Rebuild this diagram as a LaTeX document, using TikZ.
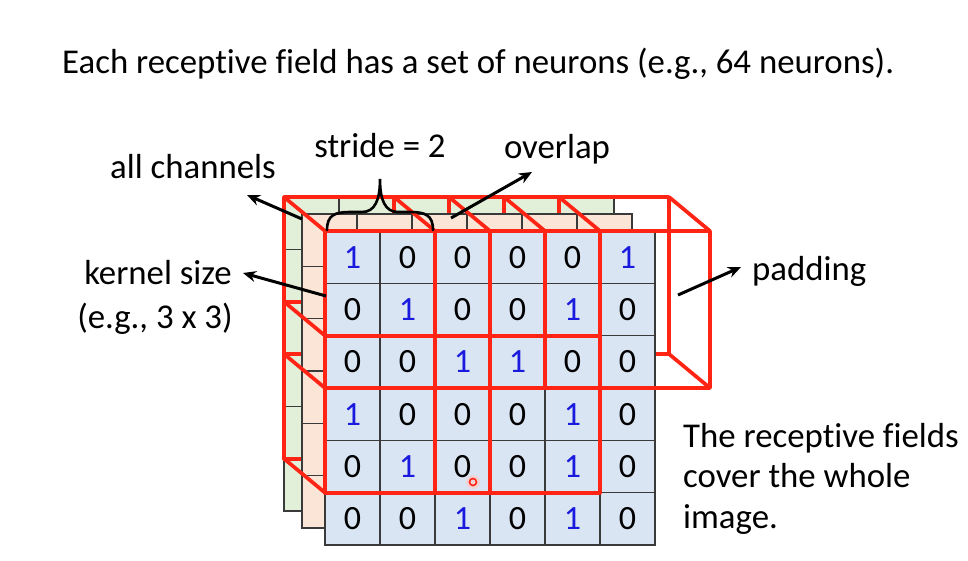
\documentclass[tikz,border=0pt]{standalone}
\usepackage{fontspec}
\setmainfont[Ligatures=NoCommon]{Carlito}
\usetikzlibrary{arrows.meta}
\definecolor{gridc}{HTML}{3A3A3A}
\definecolor{frontfill}{HTML}{DAE5F3}
\definecolor{peachfill}{HTML}{FBE5D6}
\definecolor{greenfill}{HTML}{E2F0D9}
\definecolor{rfred}{HTML}{FF2414}
\definecolor{onecol}{HTML}{1A1ADF}
\begin{document}
\begin{tikzpicture}[x=1pt,y=-1pt,
  cellbox/.style={draw=gridc, line width=1.2pt, minimum width=55pt, minimum height=52.33pt, inner sep=0pt, outer sep=0pt, font=\fontsize{34}{40}\selectfont},
  redline/.style={draw=rfred, line width=3.7pt, line join=round},
  lbl/.style={font=\fontsize{34.8}{42}\selectfont, inner sep=0pt},
  pointer/.style={line width=3pt, -{Stealth[length=13pt,width=11pt]}}
]
\useasboundingbox (0,0) rectangle (968,560);

% back (green) grid
\foreach \i in {0,...,5}
  \foreach \j in {0,...,5}
    \node[cellbox, fill=greenfill] (g-\i-\j) at (284+55*\i+27.5, 197+52.33*\j+26.17) {};

% back faces of the receptive-field boxes
\foreach \c/\r in {0/0, 2/0, 4/0, 0/2, 2/2}
  \draw[redline] (284+55*\c, 197+52.33*\r) rectangle ++(165,157);

% middle (peach) grid
\foreach \i in {0,...,5}
  \foreach \j in {0,...,5}
    \node[cellbox, fill=peachfill] (p-\i-\j) at (302+55*\i+27.5, 214+52.33*\j+26.17) {};

% depth edges
\foreach \c/\r in {0/0, 2/0, 4/0, 0/2, 2/2} {
  \draw[redline] (284+55*\c, 197+52.33*\r) -- (325+55*\c, 231+52.33*\r);
  \draw[redline] (449+55*\c, 197+52.33*\r) -- (490+55*\c, 231+52.33*\r);
  \draw[redline] (284+55*\c, 354+52.33*\r) -- (325+55*\c, 388+52.33*\r);
  \draw[redline] (449+55*\c, 354+52.33*\r) -- (490+55*\c, 388+52.33*\r);
}

% front grid with values
\foreach \j/\row in {0/{1,0,0,0,0,1}, 1/{0,1,0,0,1,0}, 2/{0,0,1,1,0,0}, 3/{1,0,0,0,1,0}, 4/{0,1,0,0,1,0}, 5/{0,0,1,0,1,0}}
  \foreach \v [count=\k from 0] in \row
    \node[cellbox, fill=frontfill] (f-\k-\j) at (325+55*\k+27.5, 231+52.33*\j+26.17) {\ifnum\v=1 \color{onecol}\fi\v};

% front faces
\foreach \c/\r in {0/0, 2/0, 4/0, 0/2, 2/2}
  \draw[redline] (325+55*\c, 231+52.33*\r) rectangle ++(165,157);

% pointer mark
\fill[rfred!25, opacity=0.6] (473,482) circle (7);
\draw[rfred, line width=1.6pt] (473,482) circle (3.5);

% brace
\draw[line width=2.6pt, line cap=round] (327,230) .. controls (327,215) and (335,212) .. (350,212) -- (362,212) .. controls (375,212) and (380,200) .. (380,179) .. controls (380,200) and (385,212) .. (398,212) -- (410,212) .. controls (425,212) and (433,215) .. (433,230);

% labels
\node[lbl, anchor=base west] (title) at (62,73.5) {Each receptive field has a set of neurons (e.g., 64 neurons).};
\node[lbl, anchor=base] (stride) at (380,157) {stride = 2};
\node[lbl, anchor=base] (overlap) at (557,158) {overlap};
\node[lbl, anchor=base] (allch) at (193,178) {all channels};
\node[lbl, anchor=base] (kernel) at (158,284) {kernel size};
\node[lbl, anchor=base] (kernel2) at (155,328) {(e.g., 3 x 3)};
\node[lbl, anchor=base west] (padding) at (752,280) {padding};
\node[lbl, anchor=base west] (cover1) at (683,447) {The receptive fields};
\node[lbl, anchor=base west] (cover2) at (683,487.7) {cover the whole};
\node[lbl, anchor=base west] (cover3) at (683,528.4) {image.};

% arrows
\coordinate (allchT) at (302,219);
\coordinate (allchH) at (247,195);
\coordinate (kernT) at (326,296);
\coordinate (kernH) at (243,273);
\coordinate (ovT) at (451,218);
\coordinate (ovH) at (532,172);
\coordinate (padT) at (678,295);
\coordinate (padH) at (741,267);
\draw[pointer] (allchT) -- (allchH);
\draw[pointer] (kernT) -- (kernH);
\draw[pointer] (ovT) -- (ovH);
\draw[pointer] (padT) -- (padH);
\end{tikzpicture}
\end{document}
